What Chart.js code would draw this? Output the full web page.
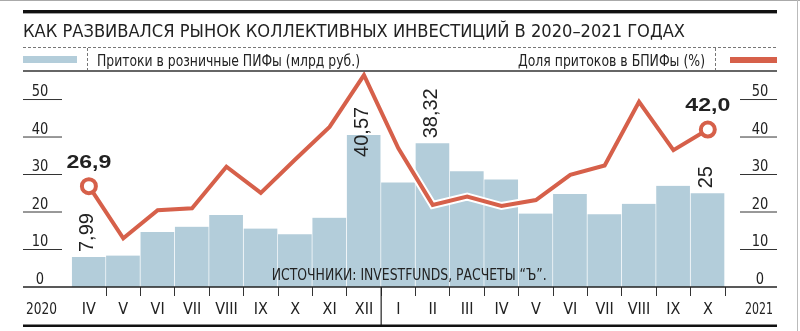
<!DOCTYPE html>
<html>
<head>
<meta charset="utf-8">
<script src="https://cdn.jsdelivr.net/npm/chart.js@4.4.0/dist/chart.umd.min.js"></script>
<style>
html, body { margin: 0; padding: 0; background: #fff; }
#wrap { width: 800px; height: 331px; }
</style>
</head>
<body>
<div id="wrap"><canvas id="chart" width="800" height="331"></canvas></div>
<script>
// data
var months = ["IV", "V", "VI", "VII", "VIII", "IX", "X", "XI", "XII",
              "I", "II", "III", "IV", "V", "VI", "VII", "VIII", "IX", "X"];
var years = ["2020", "2021"];
var inflows = [7.99, 8.4, 14.7, 16.1, 19.2, 15.6, 14.1, 18.5, 40.57,
               27.9, 38.32, 30.9, 28.7, 19.6, 24.8, 19.4, 22.2, 27.0, 25];
var bpifShare = [26.9, 13.0, 20.5, 21.0, 32.1, 25.1, 34.0, 42.7, 56.5,
                 37.0, 21.9, 24.1, 21.6, 23.2, 29.9, 32.4, 49.4, 36.5, 42.0];
var inflowLabelIdx = [0, 8, 10, 18];
var yTickValues = [0, 10, 20, 30, 40, 50];

var titleText = "КАК РАЗВИВАЛСЯ РЫНОК КОЛЛЕКТИВНЫХ ИНВЕСТИЦИЙ В 2020–2021 ГОДАХ";
var inflowName = "Притоки в розничные ПИФы (млрд руб.)";
var shareName = "Доля притоков в БПИФы (%)";
var sourceText = "ИСТОЧНИКИ: INVESTFUNDS, РАСЧЕТЫ “Ъ”.";

var BLUE = "#b3cdda";
var RED = "#d6604a";
var INK = "#222";
var NARROW = "'Liberation Sans Narrow', 'Arial Narrow', 'DejaVu Sans Condensed', sans-serif";
var REG = "'Liberation Sans', Arial, sans-serif";

// text squeezed/stretched to a given width
function txt(ctx, s, x, y, font, width, align) {
  ctx.save();
  ctx.font = font;
  var w = ctx.measureText(s).width;
  var sx = width ? width / w : 1;
  ctx.translate(x, y);
  ctx.scale(sx, 1);
  ctx.textAlign = align || "left";
  ctx.textBaseline = "alphabetic";
  ctx.fillStyle = INK;
  ctx.fillText(s, 0, 0);
  ctx.restore();
}

function hline(ctx, x1, x2, y, w, color, dash) {
  ctx.save();
  ctx.strokeStyle = color;
  ctx.lineWidth = w;
  ctx.setLineDash(dash || []);
  ctx.beginPath();
  ctx.moveTo(x1, y);
  ctx.lineTo(x2, y);
  ctx.stroke();
  ctx.restore();
}

function vline(ctx, x, y1, y2, w, color, dash) {
  ctx.save();
  ctx.strokeStyle = color;
  ctx.lineWidth = w;
  ctx.setLineDash(dash || []);
  ctx.beginPath();
  ctx.moveTo(x, y1);
  ctx.lineTo(x, y2);
  ctx.stroke();
  ctx.restore();
}

var decor = {
  id: "decor",
  beforeDraw: function(chart) {
    var ctx = chart.ctx;
    ctx.save();
    ctx.fillStyle = "#fff";
    ctx.fillRect(0, 0, chart.width, chart.height);
    ctx.restore();
  },
  afterDatasetsDraw: function(chart) {
    var ctx = chart.ctx;
    var y = chart.scales.y;
    var barMeta = chart.getDatasetMeta(2);
    var lineMeta = chart.getDatasetMeta(0);

    // frame
    hline(ctx, 0, 800, 0.5, 1, "#aaa");
    vline(ctx, 797.5, 0, 331, 1, "#bbb");

    // header
    ctx.fillStyle = "#111";
    ctx.fillRect(23, 10, 754, 3.4);
    txt(ctx, titleText, 23, 36.7, "18.5px " + NARROW, 662, "left");
    hline(ctx, 23, 777, 47.5, 1, "#777", [3, 2]);
    ctx.fillStyle = BLUE;
    ctx.fillRect(23, 56, 54, 7);
    vline(ctx, 87.5, 48, 70, 1, "#777", [3, 2]);
    txt(ctx, inflowName, 97, 66, "15px " + NARROW, 263, "left");
    txt(ctx, shareName, 705, 66, "15px " + NARROW, 187, "right");
    vline(ctx, 715.5, 48, 70, 1, "#777", [3, 2]);
    ctx.fillStyle = RED;
    ctx.fillRect(730, 57, 47, 6);
    hline(ctx, 23, 777, 71, 1.5, "#333");

    // y ticks on both sides
    yTickValues.forEach(function(v) {
      var py = y.getPixelForValue(v);
      var s = String(v);
      if (v > 0) {
        hline(ctx, 23, 62, py, 1, "#333");
        hline(ctx, 740, 777, py, 1, "#333");
      }
      txt(ctx, s, 40, py - 3.4, "16px " + NARROW, 8.3 * s.length, "center");
      txt(ctx, s, 760, py - 3.4, "16px " + NARROW, 8.3 * s.length, "center");
    });

    // bottom axis
    hline(ctx, 23, 777, 287, 1.5, "#222");
    var sep = (barMeta.data[8].x + barMeta.data[9].x) / 2;
    vline(ctx, sep, 287, 325, 1.2, "#222");
    hline(ctx, 23, 777, 325.8, 2.6, "#111");
    txt(ctx, years[0], 41.5, 314, "16px " + NARROW, 31, "center");
    txt(ctx, years[1], 759, 314, "16px " + NARROW, 28, "center");

    // source
    txt(ctx, sourceText, 271.7, 280, "16px " + NARROW, 275, "left");

    // rotated inflow labels
    var shift = { 8: 22 };
    inflowLabelIdx.forEach(function(i) {
      var bar = barMeta.data[i];
      var s = String(inflows[i]).replace(".", ",");
      var off = shift[i] !== undefined ? shift[i] : -5;
      ctx.save();
      ctx.translate(bar.x - 1, bar.y + off);
      ctx.rotate(-Math.PI / 2);
      ctx.font = "20px " + REG;
      ctx.fillStyle = INK;
      ctx.textAlign = "left";
      ctx.textBaseline = "middle";
      ctx.fillText(s, 0, 0);
      ctx.restore();
    });

    // end point labels of the line
    [0, bpifShare.length - 1].forEach(function(i) {
      var p = lineMeta.data[i];
      var s = bpifShare[i].toFixed(1).replace(".", ",");
      txt(ctx, s, p.x, p.y - 18.5, "bold 18px " + REG, 45, "center");
    });
  }
};

var last = bpifShare.length - 1;

new Chart(document.getElementById("chart"), {
  data: {
    labels: months,
    datasets: [{
      type: "line",
      data: bpifShare,
      borderColor: RED,
      borderWidth: 4,
      borderJoinStyle: "miter",
      tension: 0,
      pointRadius: function(c) { return (c.dataIndex === 0 || c.dataIndex === last) ? 7 : 0; },
      pointBackgroundColor: "#fff",
      pointBorderColor: RED,
      pointBorderWidth: 4,
      order: 0
    }, {
      type: "line",
      data: bpifShare,
      borderColor: "#fff",
      borderWidth: 8,
      borderJoinStyle: "miter",
      tension: 0,
      pointRadius: 0,
      order: 1
    }, {
      type: "bar",
      data: inflows,
      backgroundColor: BLUE,
      borderColor: "#fff",
      borderWidth: { top: 0, left: 0, bottom: 0, right: 1 },
      borderSkipped: false,
      categoryPercentage: 1,
      barPercentage: 1,
      order: 2
    }]
  },
  options: {
    responsive: false,
    animation: false,
    layout: { padding: { left: 71.7, right: 75, top: 71.4, bottom: 0 } },
    plugins: { legend: { display: false }, tooltip: { enabled: false } },
    scales: {
      x: {
        type: "category",
        offset: true,
        grid: {
          display: true,
          drawOnChartArea: false,
          drawTicks: true,
          offset: true,
          tickLength: 9,
          lineWidth: 1,
          color: function(c) { return (c.index === 0 || c.index === months.length) ? "rgba(0,0,0,0)" : "#333"; }
        },
        border: { display: false },
        ticks: { color: INK, font: { family: NARROW, size: 16 }, padding: 4, autoSkip: false, maxRotation: 0 },
        afterFit: function(s) { s.height = 44; }
      },
      y: {
        display: false,
        min: 0,
        max: 57.5
      }
    }
  },
  plugins: [decor]
});
</script>
</body>
</html>
